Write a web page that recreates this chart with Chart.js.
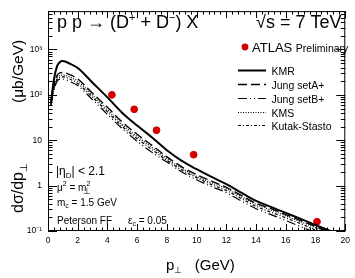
<!DOCTYPE html>
<html><head><meta charset="utf-8">
<script src="https://cdn.jsdelivr.net/npm/chart.js@4.4.1/dist/chart.umd.min.js"></script>
<style>html,body{margin:0;padding:0;background:#fff}#wrap{width:355px;height:278px}</style>
</head><body><div id="wrap"><canvas id="c" width="355" height="278"></canvas></div>
<script>
const pT = [0.2,0.4,0.6,0.8,1,1.5,2,3,4,5,6,7,8,9,10,11,12,13,14,15,16,17,18,19];
const kmr = [70,220,420,530,556,480,390,185,88,40,21,11.5,6.0,3.5,2.3,1.55,1.08,0.7,0.46,0.34,0.25,0.185,0.135,0.1];
const jungA = [65,160,265,305,310,275,225,108,53,25,13.5,7.7,4.3,2.6,1.75,1.25,0.92,0.61,0.41,0.31,0.23,0.17,0.125,0.093];
const jungB = [58,125,195,222,222,195,160,78,37,18,9.5,5.4,3.3,2.0,1.35,0.95,0.7,0.46,0.31,0.23,0.17,0.125,0.092,0.068];
const kms = [62,150,235,270,272,245,200,98,47,22,12,6.9,3.9,2.4,1.6,1.15,0.86,0.57,0.385,0.29,0.215,0.16,0.117,0.087];
const kutak = [60,140,215,245,248,220,178,88,42,20,10.8,6.2,3.6,2.2,1.5,1.05,0.78,0.52,0.35,0.26,0.195,0.145,0.105,0.078];
const atlasX = [4.3,5.8,7.3,9.8,18.1];
const atlasY = [100,48,16.6,4.8,0.16];
const xTicks = [0,2,4,6,8,10,12,14,16,18,20];
const yTickValues = [0.1,1,10,100,1000];
const yTickLabels = ['10\u207B\u00B9','1','10','10\u00B2','10\u00B3'];

const FONT = "'Liberation Sans', Arial, sans-serif";
const pts = arr => pT.map((x,i)=>({x, y:arr[i]}));
const lineDs = (label, arr, width, dash) => ({
  label, data: pts(arr), borderColor:'#000', borderWidth:width, borderDash:dash,
  pointRadius:0, fill:false, cubicInterpolationMode:'monotone', type:'line'
});
const datasets = [
  lineDs('KMR', kmr, 2, []),
  lineDs('Jung setA+', jungA, 1.4, [9,4]),
  lineDs('Jung setB+', jungB, 1.2, [9,3,1,3,1,3]),
  lineDs('KMS', kms, 1.2, [1,1.5]),
  lineDs('Kutak-Stasto', kutak, 1.2, [3,2,1,2]),
  {label:'ATLAS', type:'scatter', data: atlasX.map((x,i)=>({x,y:atlasY[i]})),
   backgroundColor:'#d40000', borderColor:'#d40000', pointRadius:3.4, pointStyle:'circle', showLine:false}
];

function drawText(ctx, parts, x, y){
  let cx = x;
  for (const [t, s, dy] of parts){
    ctx.font = s + 'px ' + FONT;
    ctx.fillText(t, cx, y + (dy||0));
    cx += ctx.measureText(t).width;
  }
  return cx;
}

const decor = {
  id:'decor',
  afterDraw(chart){
    const {ctx, chartArea:a, scales:{x,y}} = chart;
    ctx.save();
    ctx.strokeStyle = '#000'; ctx.lineWidth = 1;
    ctx.strokeRect(a.left+0.5, a.top+0.5, a.right-a.left-1, a.bottom-a.top-1);
    ctx.beginPath();
    for (let i=0;i<=50;i++){
      const v = i*0.4;
      const px = Math.round(x.getPixelForValue(v))+0.5;
      const len = (i%5===0)?7:3.5;
      ctx.moveTo(px,a.bottom); ctx.lineTo(px,a.bottom-len);
      ctx.moveTo(px,a.top); ctx.lineTo(px,a.top+len);
    }
    for (let e=-1;e<=3;e++){
      for (let m=1;m<=9;m++){
        const v = m*Math.pow(10,e);
        if (v>y.max) break;
        const py = Math.round(y.getPixelForValue(v))+0.5;
        const len = (m===1)?9:4.5;
        ctx.moveTo(a.left,py); ctx.lineTo(a.left+len,py);
        ctx.moveTo(a.right,py); ctx.lineTo(a.right-len,py);
      }
    }
    ctx.stroke();

    ctx.fillStyle = '#000'; ctx.textBaseline = 'alphabetic'; ctx.textAlign='left';
    drawText(ctx, [['p p \u2192 (D',18],['+',11,-7],[' + D',18],['\u2212',11,-7],[') X',18]], 57, 28);
    drawText(ctx, [['\u221As = 7 TeV',18]], 256, 28);
    ctx.fillStyle = '#d40000';
    ctx.beginPath(); ctx.arc(245,47,3.4,0,Math.PI*2); ctx.fill();
    ctx.fillStyle = '#000';
    drawText(ctx, [['ATLAS ',13],['Preliminary',10.5]], 252, 51.5);
    const ly = [70.5,84.5,98.5,112.5,125.5];
    for (let i=0;i<5;i++){
      const ds = chart.data.datasets[i];
      ctx.beginPath();
      ctx.lineWidth = ds.borderWidth; ctx.setLineDash(ds.borderDash);
      ctx.moveTo(238,ly[i]); ctx.lineTo(266,ly[i]); ctx.stroke();
      ctx.setLineDash([]);
      drawText(ctx, [[ds.label,10.5]], 271.5, ly[i]+4);
    }
    drawText(ctx, [['|\u03B7',12],['D',8,3],['| < 2.1',12]], 56, 175);
    drawText(ctx, [['\u03BC',10],['2',7,-5],[' = m',10],['2',7,-5]], 57, 191);
    ctx.font = '9px '+FONT; ctx.fillText('\u22A5', 83, 194);
    drawText(ctx, [['m',10],['c',7,2],[' = 1.5 GeV',10]], 57, 206);
    drawText(ctx, [['Peterson FF',10]], 57, 224);
    drawText(ctx, [['\u03B5',10],['c',7,2],[' = 0.05',10]], 128, 224);
    drawText(ctx, [['p',15],['\u22A5',9,3],['   (GeV)',15]], 166, 270);
    // y title (rotated)
    ctx.save();
    ctx.translate(23, 0); ctx.rotate(-Math.PI/2);
    drawText(ctx, [['d\u03C3/dp',16],['\u22A5',10,4]], -213, 0);
    drawText(ctx, [['(\u03BCb/GeV)',15.5]], -103, 0);
    ctx.restore();
    ctx.restore();
  }
};

new Chart(document.getElementById('c'), {
  type:'line',
  data:{datasets},
  options:{
    responsive:false, animation:false, devicePixelRatio:1,
    layout:{padding:{top:8,right:5,left:0,bottom:0}},
    plugins:{legend:{display:false}, tooltip:{enabled:false}},
    scales:{
      x:{type:'linear', min:0, max:20,
         afterBuildTicks: s => { s.ticks = xTicks.map(v=>({value:v})); },
         afterFit: s => { s.height = 47; },
         grid:{display:false, drawTicks:false}, border:{display:false},
         ticks:{font:{family:FONT,size:8.5}, color:'#000', padding:5, maxRotation:0, autoSkip:false}},
      y:{type:'logarithmic', min:0.1, max:7000,
         afterBuildTicks: s => { s.ticks = yTickValues.map(v=>({value:v})); },
         afterFit: s => { s.width = 48; },
         grid:{display:false, drawTicks:false}, border:{display:false},
         ticks:{font:{family:FONT,size:8.5}, color:'#000', padding:6,
           callback:(v)=>{ const i = yTickValues.findIndex(t=>Math.abs(t-v)/t<1e-6); return i>=0?yTickLabels[i]:''; }}}
    }
  },
  plugins:[decor]
});
</script></body></html>
